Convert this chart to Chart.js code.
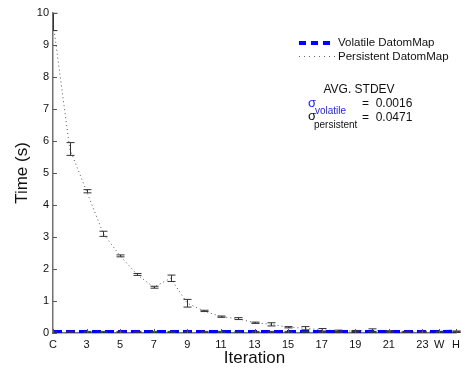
<!DOCTYPE html>
<html>
<head>
<meta charset="utf-8">
<script src="https://cdn.jsdelivr.net/npm/chart.js@4.4.0/dist/chart.umd.min.js"></script>
<style>
  html, body { margin: 0; padding: 0; background: #fff; }
</style>
</head>
<body>
<canvas id="timeChart" width="465" height="372"></canvas>
<script>
// iteration index on the x axis (C = 1 ... 23, W = 24, H = 25)
const iterations = [1, 2, 3, 4, 5, 6, 7, 8, 9, 10, 11, 12, 13, 14, 15, 16, 17, 18, 19, 20, 21, 22, 23, 24, 25];
const tickValues = [1, 3, 5, 7, 9, 11, 13, 15, 17, 19, 21, 23, 24, 25];
const tickLabels = ['C', '3', '5', '7', '9', '11', '13', '15', '17', '19', '21', '23', 'W', 'H'];
const yTicks = [0, 1, 2, 3, 4, 5, 6, 7, 8, 9, 10];

// mean time (s) and std dev per iteration
const volatileMean = [0.03, 0.03, 0.03, 0.03, 0.03, 0.03, 0.03, 0.03, 0.03, 0.03, 0.03, 0.03, 0.03, 0.03, 0.03, 0.03, 0.03, 0.03, 0.03, 0.03, 0.03, 0.03, 0.03, 0.03, 0.04];
const volatileErr = [0.02, 0.02, 0.02, 0.02, 0.02, 0.02, 0.02, 0.02, 0.02, 0.02, 0.02, 0.02, 0.02, 0.02, 0.02, 0.02, 0.02, 0.02, 0.02, 0.02, 0.02, 0.02, 0.02, 0.02, 0.02];
const persistentMean = [9.72, 5.75, 4.43, 3.10, 2.41, 1.83, 1.43, 1.71, 0.93, 0.69, 0.51, 0.45, 0.32, 0.27, 0.18, 0.15, 0.10, 0.07, 0.06, 0.08, 0.05, 0.03, 0.03, 0.03, 0.035];
const persistentErr = [0.27, 0.20, 0.05, 0.08, 0.03, 0.03, 0.03, 0.10, 0.12, 0.02, 0.02, 0.03, 0.02, 0.05, 0.02, 0.05, 0.04, 0.02, 0.02, 0.05, 0.02, 0.02, 0.02, 0.02, 0.02];

const FONT = '"Liberation Sans", Arial, Helvetica, sans-serif';
const blue = '#0000ff';

// errorbars, drawn over the lines
const errorBars = {
    id: 'errorBars',
    afterDatasetsDraw(chart) {
        const ctx = chart.ctx;
        const xs = chart.scales.x, ys = chart.scales.y, area = chart.chartArea;
        ctx.save();
        ctx.beginPath();
        ctx.rect(area.left, area.top - 1, area.right - area.left + 5, area.bottom - area.top + 1);
        ctx.clip();
        ctx.strokeStyle = '#333';
        ctx.lineWidth = 1;
        [[volatileMean, volatileErr], [persistentMean, persistentErr]].forEach(([mean, err]) => {
            iterations.forEach((it, i) => {
                const px = Math.round(xs.getPixelForValue(it)) + 0.5;
                const top = ys.getPixelForValue(mean[i] + err[i]);
                const bot = ys.getPixelForValue(mean[i] - err[i]);
                ctx.beginPath();
                ctx.moveTo(px, top); ctx.lineTo(px, bot);
                ctx.moveTo(px - 4, top); ctx.lineTo(px + 4, top);
                ctx.moveTo(px - 4, bot); ctx.lineTo(px + 4, bot);
                ctx.stroke();
            });
        });
        ctx.restore();
    }
};

// inward ticks, legend and the std dev note
const decorations = {
    id: 'decorations',
    afterDraw(chart) {
        const ctx = chart.ctx;
        const xs = chart.scales.x, ys = chart.scales.y, area = chart.chartArea;
        ctx.save();
        ctx.strokeStyle = '#555';
        ctx.lineWidth = 1;
        ctx.beginPath();
        yTicks.forEach(v => {
            const py = Math.round(ys.getPixelForValue(v)) + 0.5;
            ctx.moveTo(area.left, py); ctx.lineTo(area.left + 4, py);
        });
        tickValues.forEach(v => {
            const px = Math.round(xs.getPixelForValue(v)) + 0.5;
            ctx.moveTo(px, area.bottom); ctx.lineTo(px, area.bottom - 4);
        });
        ctx.stroke();

        // legend
        ctx.lineWidth = 4;
        ctx.strokeStyle = blue;
        ctx.setLineDash([7, 5]);
        ctx.beginPath(); ctx.moveTo(299, 43); ctx.lineTo(335, 43); ctx.stroke();
        ctx.lineWidth = 1;
        ctx.strokeStyle = '#666';
        ctx.setLineDash([1, 4]);
        ctx.beginPath(); ctx.moveTo(299, 56.5); ctx.lineTo(335, 56.5); ctx.stroke();
        ctx.setLineDash([]);

        ctx.fillStyle = '#111';
        ctx.font = '11.5px ' + FONT;
        ctx.textBaseline = 'middle';
        ctx.textAlign = 'left';
        ctx.fillText('Volatile DatomMap', 338, 43);
        ctx.fillText('Persistent DatomMap', 338, 57);

        // average std dev note
        ctx.font = '12px ' + FONT;
        ctx.textAlign = 'center';
        ctx.fillText('AVG. STDEV', 359, 90);
        ctx.textAlign = 'left';
        ctx.fillStyle = '#2222ff';
        ctx.font = '13px ' + FONT;
        ctx.fillText('\u03c3', 308, 103);
        ctx.font = '10px ' + FONT;
        ctx.fillText('volatile', 315, 111);
        ctx.fillStyle = '#111';
        ctx.font = '13px ' + FONT;
        ctx.fillText('\u03c3', 308, 116);
        ctx.font = '10px ' + FONT;
        ctx.fillText('persistent', 314, 125);
        ctx.font = '12px ' + FONT;
        ctx.fillText('=  0.0016', 362, 104);
        ctx.fillText('=  0.0471', 362, 118);
        ctx.restore();
    }
};

const chartData = {
    datasets: [
        {
            label: 'Volatile DatomMap',
            data: iterations.map((it, i) => ({ x: it, y: volatileMean[i] })),
            borderColor: blue,
            borderWidth: 4,
            borderDash: [9, 4],
            pointRadius: 0,
            tension: 0,
        },
        {
            label: 'Persistent DatomMap',
            data: iterations.map((it, i) => ({ x: it, y: persistentMean[i] })),
            borderColor: '#555',
            borderWidth: 1,
            borderDash: [1, 3],
            pointRadius: 0,
            tension: 0,
        },
    ],
};

const chartOptions = {
    responsive: false,
    animation: false,
    layout: { padding: { top: 13, right: 5, left: 0, bottom: 0 } },
    plugins: { legend: { display: false }, tooltip: { enabled: false } },
    scales: {
        x: {
            type: 'linear',
            min: 1,
            max: 25,
            grid: { display: false, drawTicks: false },
            border: { display: true, color: '#707070', width: 1.5 },
            afterBuildTicks: scale => { scale.ticks = tickValues.map(v => ({ value: v })); },
            afterFit: scale => { scale.height = 39; },
            ticks: {
                autoSkip: false,
                maxRotation: 0,
                padding: 5,
                color: '#111',
                font: { family: FONT, size: 11 },
                callback: value => tickLabels[tickValues.indexOf(value)],
            },
            title: {
                display: true,
                text: 'Iteration',
                color: '#111',
                font: { family: FONT, size: 17 },
                padding: { top: 0, bottom: 3 },
            },
        },
        y: {
            min: 0,
            max: 10,
            grid: { display: false, drawTicks: false },
            border: { display: true, color: '#707070', width: 1.5 },
            afterBuildTicks: scale => { scale.ticks = yTicks.map(v => ({ value: v })); },
            afterFit: scale => { scale.width = 53; },
            ticks: {
                padding: 4,
                color: '#111',
                font: { family: FONT, size: 11 },
            },
            title: {
                display: true,
                text: 'Time (s)',
                color: '#111',
                font: { family: FONT, size: 17 },
                padding: { top: 12, bottom: 0 },
            },
        },
    },
};

new Chart(document.getElementById('timeChart').getContext('2d'), {
    type: 'line',
    data: chartData,
    options: chartOptions,
    plugins: [errorBars, decorations],
});
</script>
</body>
</html>
